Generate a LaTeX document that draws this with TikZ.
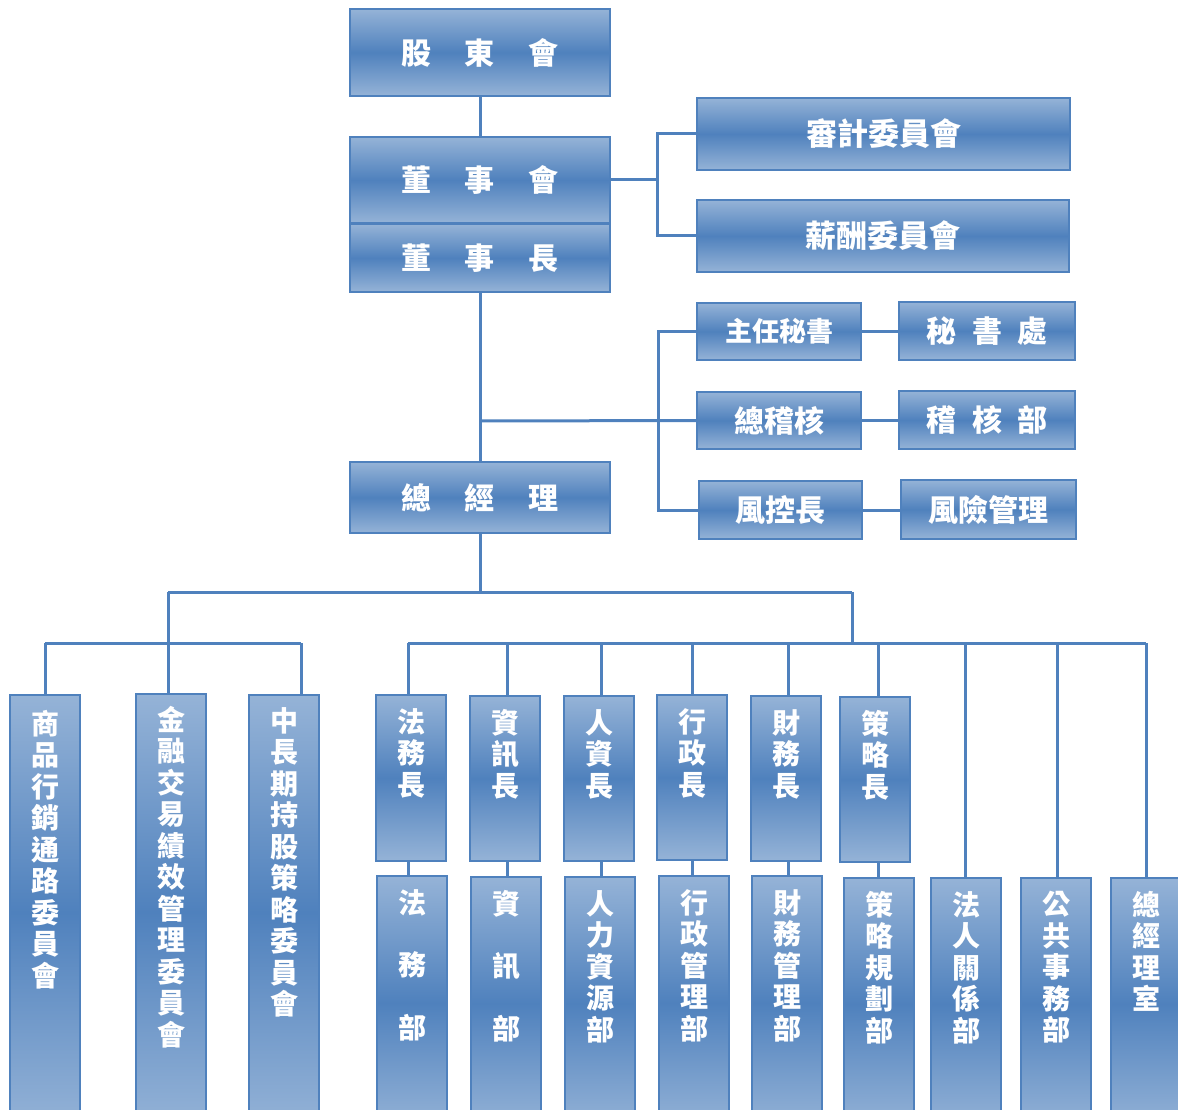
\documentclass[tikz,border=0pt]{standalone}
\usepackage{fontspec}
\newfontfamily\cjk{Noto Sans CJK TC}
\definecolor{lb}{RGB}{149,179,215}
\definecolor{db}{RGB}{79,129,189}
\definecolor{ln}{RGB}{79,129,189}
\newcommand\orgbox[5]{\node[box, minimum width={#4-#2}, minimum height={#5-#3}] (#1) at ({(#2+#4)/2},{(#3+#5)/2}) {};}
\begin{document}
\begin{tikzpicture}[x=1pt,y=-1pt,
  box/.style={draw=ln,line width=2.5pt,top color=lb,bottom color=lb,middle color=db,inner sep=0pt,outer sep=0pt},
  conn/.style={draw=ln,line width=3pt},
  htxt/.style={text=white,font=\cjk\bfseries\fontsize{30}{32}\selectfont,inner sep=0pt},
  vtxt/.style={text=white,font=\cjk\bfseries\fontsize{28}{31.5}\selectfont,align=center,inner sep=0pt,anchor=north}]
\useasboundingbox (0,0) rectangle (1178,1110);
\clip (0,0) rectangle (1178,1110);

% junction coordinates
\coordinate (bj) at (657,180);
\coordinate (tj) at (480,421);
\coordinate (sj) at (658,421);
\coordinate (g1) at (480,592);
\coordinate (g2) at (168,592);
\coordinate (g3) at (852,592);
\coordinate (h1) at (45,643);
\coordinate (h2) at (301,643);
\coordinate (r0) at (852,643);
\coordinate (r1) at (408,643);
\coordinate (r9) at (1146,643);

% boxes
\orgbox{A}{350}{9}{610}{96}
\orgbox{B}{350}{137}{610}{223}
\orgbox{C}{350}{224}{610}{292}
\orgbox{D}{697}{98}{1070}{170}
\orgbox{E}{697}{200}{1069}{272}
\orgbox{F}{697}{303}{861}{360}
\orgbox{G}{899}{302}{1075}{360}
\orgbox{H}{697}{392}{861}{449}
\orgbox{I}{899}{391}{1075}{449}
\orgbox{J}{699}{481}{862}{539}
\orgbox{K}{901}{480}{1076}{539}
\orgbox{L}{350}{462}{610}{533}
\orgbox{M1}{10}{695}{80}{1130}
\orgbox{M2}{136}{694}{206}{1130}
\orgbox{M3}{249}{695}{319}{1130}
\orgbox{P1}{376}{695}{446}{861}
\orgbox{P2}{470}{696}{540}{861}
\orgbox{P3}{564}{696}{634}{861}
\orgbox{P4}{657}{695}{727}{860}
\orgbox{P5}{751}{696}{821}{861}
\orgbox{P6}{840}{697}{910}{862}
\orgbox{Q1}{377}{876}{447}{1130}
\orgbox{Q2}{471}{877}{541}{1130}
\orgbox{Q3}{565}{877}{635}{1130}
\orgbox{Q4}{659}{876}{729}{1130}
\orgbox{Q5}{752}{876}{822}{1130}
\orgbox{Q6}{844}{878}{914}{1130}
\orgbox{Q7}{931}{878}{1001}{1130}
\orgbox{Q8}{1021}{878}{1091}{1130}
\orgbox{Q9}{1111}{878}{1181}{1130}

% connectors
\draw[conn] (A.south) -- (B.north);
\draw[conn] (B.east) -- (bj);
\draw[conn] (D.west) -- (D.west -| bj) -- (E.west -| bj) -- (E.west);
\draw[conn] (C.south) -- (L.north);
\draw[conn] (tj) -- (H.west);
\draw[conn] (F.west) -- (F.west -| sj) -- (J.west -| sj) -- (J.west);
\draw[conn] (F.east) -- (F.east -| G.west);
\draw[conn] (H.east) -- (H.east -| I.west);
\draw[conn] (J.east) -- (J.east -| K.west);
\draw[conn] (L.south) -- (g1);
\draw[conn] (g2) -- (g3);
\draw[conn] (g2) -- (g2 |- M2.north);
\draw[conn] (h1) -- (h2);
\draw[conn] (h1) -- (h1 |- M1.north);
\draw[conn] (h2) -- (h2 |- M3.north);
\draw[conn] (g3) -- (r0);
\draw[conn] (r1) -- (r9);
\draw[conn] (r1) -- (r1 |- P1.north);
\draw[conn] (507,643) -- (507,696);
\draw[conn] (601,643) -- (601,696);
\draw[conn] (692,643) -- (692,695);
\draw[conn] (788,643) -- (788,696);
\draw[conn] (878,643) -- (878,697);
\draw[conn] (965,643) -- (965,878);
\draw[conn] (1057,643) -- (1057,878);
\draw[conn] (r9) -- (r9 |- Q9.north);
\draw[conn] (P1.south -| r1) -- (Q1.north -| r1);
\draw[conn] (507,861) -- (507,877);
\draw[conn] (601,861) -- (601,877);
\draw[conn] (692,860) -- (692,876);
\draw[conn] (788,861) -- (788,876);
\draw[conn] (878,862) -- (878,878);

% texts
\node[htxt] (At) at (A) {股\hspace{34pt}東\hspace{34pt}會};
\node[htxt] (Bt) at (B) {董\hspace{34pt}事\hspace{34pt}會};
\node[htxt] (Ct) at (C) {董\hspace{34pt}事\hspace{34pt}長};
\node[htxt] (Dt) at (D) {\fontsize{31}{32}\selectfont 審計委員會};
\node[htxt] (Et) at (E) {\fontsize{31}{32}\selectfont 薪酬委員會};
\node[htxt] (Ft) at (F) {\fontsize{27}{32}\selectfont 主任秘書};
\node[htxt] (Gt) at (G) {秘\hspace{16pt}書\hspace{16pt}處};
\node[htxt] (Ht) at (H) {總稽核};
\node[htxt] (It) at (I) {稽\hspace{16pt}核\hspace{16pt}部};
\node[htxt] (Jt) at (J) {風控長};
\node[htxt] (Kt) at (K) {風險管理};
\node[htxt] (Lt) at (L) {總\hspace{34pt}經\hspace{34pt}理};

\node[vtxt] (M1t) at ([yshift=-15pt]M1.north) {商\\品\\行\\銷\\通\\路\\委\\員\\會};
\node[vtxt] (M2t) at ([yshift=-12pt]M2.north) {金\\融\\交\\易\\績\\效\\管\\理\\委\\員\\會};
\node[vtxt] (M3t) at ([yshift=-12pt]M3.north) {中\\長\\期\\持\\股\\策\\略\\委\\員\\會};
\node[vtxt] (P1t) at ([yshift=-13pt]P1.north) {法\\務\\長};
\node[vtxt] (P2t) at ([yshift=-13pt]P2.north) {資\\訊\\長};
\node[vtxt] (P3t) at ([yshift=-13pt]P3.north) {人\\資\\長};
\node[vtxt] (P4t) at ([yshift=-13pt]P4.north) {行\\政\\長};
\node[vtxt] (P5t) at ([yshift=-13pt]P5.north) {財\\務\\長};
\node[vtxt] (P6t) at ([yshift=-13pt]P6.north) {策\\略\\長};
\node[vtxt] (Q1t) at ([yshift=-13pt]Q1.north) {法\\[31pt]務\\[31pt]部};
\node[vtxt] (Q2t) at ([yshift=-13pt]Q2.north) {資\\[31pt]訊\\[31pt]部};
\node[vtxt] (Q3t) at ([yshift=-13pt]Q3.north) {人\\力\\資\\源\\部};
\node[vtxt] (Q4t) at ([yshift=-13pt]Q4.north) {行\\政\\管\\理\\部};
\node[vtxt] (Q5t) at ([yshift=-13pt]Q5.north) {財\\務\\管\\理\\部};
\node[vtxt] (Q6t) at ([yshift=-13pt]Q6.north) {策\\略\\規\\劃\\部};
\node[vtxt] (Q7t) at ([yshift=-13pt]Q7.north) {法\\人\\關\\係\\部};
\node[vtxt] (Q8t) at ([yshift=-13pt]Q8.north) {公\\共\\事\\務\\部};
\node[vtxt] (Q9t) at ([yshift=-13pt]Q9.north) {總\\經\\理\\室};
\end{tikzpicture}
\end{document}
